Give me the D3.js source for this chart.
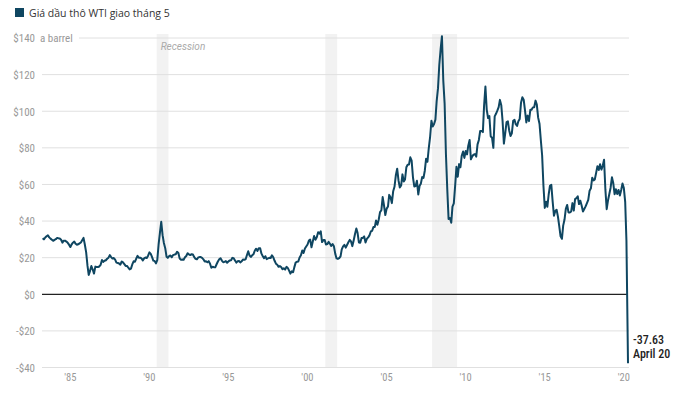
<!DOCTYPE html>
<html><head><meta charset="utf-8">
<script src="https://cdn.jsdelivr.net/npm/d3@7"></script>
<style>
body{margin:0;background:#fff}
svg{display:block}
.cond{font-family:"Roboto Condensed","Liberation Sans Narrow","DejaVu Sans Condensed",Roboto,sans-serif;font-stretch:condensed}
</style>
</head><body><svg id="c" width="680" height="397"></svg>
<script>
// Monthly WTI front-month prices (USD/barrel), April 1983 -> April 2020
const firstYear = 1983, firstMonth = 4;
const prices = [
  // 1983 Apr-Dec
  30.6, 30.0, 31.0, 31.7, 32.2, 31.1, 30.4, 29.8, 29.2,
  // 1984
  29.7, 30.1, 30.8, 30.6, 30.5, 29.8, 28.2, 29.3, 29.3, 28.8, 28.1, 27.1,
  // 1985
  25.8, 27.3, 28.2, 28.8, 27.6, 27.1, 27.3, 27.8, 28.3, 29.5, 30.8, 27.2,
  // 1986
  22.9, 15.5, 10.6, 12.8, 15.4, 13.5, 11.3, 15.1, 14.9, 14.9, 15.2, 16.1,
  // 1987
  18.7, 17.7, 18.3, 18.6, 19.4, 20.0, 21.4, 20.3, 19.5, 19.8, 18.9, 17.3,
  // 1988
  17.1, 16.8, 16.2, 17.9, 17.4, 16.5, 15.5, 15.5, 14.5, 13.6, 14.0, 16.3,
  // 1989
  18.0, 17.8, 19.4, 21.0, 20.0, 20.0, 19.6, 18.5, 19.6, 20.1, 19.8, 21.1,
  // 1990
  22.9, 22.1, 20.4, 18.4, 18.2, 16.9, 18.6, 27.2, 33.7, 39.6, 32.3, 28.0,
  // 1991
  25.2, 20.5, 19.9, 20.8, 21.2, 20.2, 21.4, 21.7, 21.9, 23.2, 22.5, 19.5,
  // 1992
  18.8, 19.0, 18.9, 20.2, 20.9, 22.4, 21.8, 21.4, 21.9, 21.7, 20.3, 19.4,
  // 1993
  19.1, 20.1, 20.3, 20.3, 19.9, 19.1, 17.9, 18.0, 17.5, 18.1, 16.7, 14.5,
  // 1994
  15.0, 14.8, 14.7, 16.4, 17.9, 19.1, 19.7, 18.4, 17.5, 17.7, 18.1, 17.2,
  // 1995
  18.0, 18.5, 18.6, 19.9, 19.7, 18.5, 17.3, 18.0, 18.2, 17.4, 18.0, 19.0,
  // 1996
  18.9, 19.1, 21.3, 23.5, 21.2, 20.4, 21.3, 21.9, 23.9, 24.9, 23.7, 25.2,
  // 1997
  25.1, 22.2, 20.9, 19.7, 20.8, 19.2, 19.6, 19.9, 19.8, 21.3, 20.2, 18.3,
  // 1998
  16.7, 16.1, 15.0, 15.4, 14.9, 13.7, 14.2, 13.5, 15.0, 14.4, 12.9, 11.3,
  // 1999
  12.5, 12.0, 14.7, 17.3, 17.8, 17.9, 20.1, 21.3, 23.9, 22.6, 25.0, 26.1,
  // 2000
  27.2, 29.4, 29.9, 25.7, 28.8, 31.8, 29.8, 31.2, 33.9, 33.1, 34.4, 28.5,
  // 2001
  29.6, 29.6, 27.2, 27.4, 28.6, 27.6, 26.4, 27.4, 26.2, 22.2, 19.6, 19.3,
  // 2002
  19.7, 20.7, 24.5, 26.2, 27.0, 25.5, 26.9, 28.4, 29.7, 28.9, 26.3, 29.4,
  // 2003
  32.9, 35.9, 33.6, 28.3, 28.1, 30.7, 30.8, 31.6, 28.3, 30.3, 31.1, 32.2,
  // 2004
  34.3, 34.7, 36.7, 36.7, 40.3, 38.0, 40.7, 44.9, 45.9, 53.1, 48.5, 43.3,
  // 2005
  46.8, 48.0, 54.3, 53.0, 49.8, 56.3, 58.7, 65.0, 68.6, 62.3, 58.3, 59.4,
  // 2006
  65.5, 61.6, 62.7, 69.4, 70.8, 70.9, 74.8, 73.0, 63.8, 58.9, 59.1, 62.0,
  // 2007
  54.5, 59.3, 60.4, 64.0, 63.5, 67.5, 74.1, 72.4, 79.9, 85.8, 94.8, 91.7,
  // 2008
  93.0, 95.4, 105.5, 112.6, 125.4, 134.0, 141.0, 116.7, 104.1, 76.6, 57.3, 41.1,
  // 2009
  41.7, 39.1, 47.9, 49.7, 59.0, 69.6, 64.2, 71.1, 69.4, 75.7, 78.0, 74.5,
  // 2010
  78.3, 76.4, 81.2, 84.3, 73.7, 75.3, 76.3, 76.6, 75.2, 81.9, 84.3, 89.2,
  // 2011
  89.2, 88.6, 102.9, 113.5, 100.9, 96.3, 97.3, 86.3, 85.5, 80.0, 97.2, 98.6,
  // 2012
  100.3, 102.2, 106.2, 103.3, 94.7, 82.3, 87.9, 94.1, 94.5, 89.5, 86.5, 87.9,
  // 2013
  94.8, 95.3, 92.9, 92.0, 94.5, 95.8, 104.6, 107.6, 106.3, 100.5, 93.9, 97.6,
  // 2014
  94.6, 100.8, 100.8, 102.1, 102.2, 105.8, 103.6, 96.5, 93.2, 84.4, 75.8, 59.3,
  // 2015
  47.2, 50.6, 47.8, 54.5, 59.3, 59.8, 50.9, 42.9, 45.5, 46.2, 42.4, 37.2,
  // 2016
  31.7, 30.3, 37.5, 40.8, 46.7, 48.8, 44.7, 44.7, 45.2, 49.8, 45.7, 52.0,
  // 2017
  52.5, 53.5, 49.3, 51.1, 48.5, 45.2, 46.6, 48.0, 49.8, 51.6, 56.6, 57.9,
  // 2018
  63.7, 62.2, 62.7, 66.3, 70.0, 67.9, 71.0, 68.1, 70.2, 73.5, 57.0, 46.5,
  // 2019
  51.4, 54.9, 58.2, 63.9, 60.8, 54.7, 57.4, 54.8, 57.0, 54.0, 57.0, 60.5,
  // 2020 Jan-Apr
  58.0, 50.5, 29.2, -37.63
];
const lastDay = 20; // last point: April 20, 2020
const yTicks = [-40, -20, 0, 20, 40, 60, 80, 100, 120, 140];
const xTickYears = [1985, 1990, 1995, 2000, 2005, 2010, 2015, 2020];
const recessions = [["1990-07-01", "1991-03-31"], ["2001-03-01", "2001-11-30"], ["2007-12-01", "2009-06-30"]];
const legendText = "Giá dầu thô WTI giao tháng 5";
const unitText = "a barrel";
const recessionText = "Recession";
const endLabel = ["-37.63", "April 20"];

const lineColor = "#0f4661";
const svg = d3.select("#c");

const data = prices.map((v, i) => {
  const last = i === prices.length - 1;
  return { date: new Date(firstYear, firstMonth - 1 + i, last ? lastDay : 15), value: v };
});

const x = d3.scaleTime()
  .domain([new Date(firstYear, firstMonth - 1, 1), data[data.length - 1].date])
  .range([42, 628]);
const y = d3.scaleLinear().domain([-40, 140]).range([367.5, 38]);

// recession bands
const parse = d3.timeParse("%Y-%m-%d");
svg.append("g").selectAll("rect").data(recessions).join("rect")
  .attr("x", d => x(parse(d[0])))
  .attr("width", d => x(parse(d[1])) - x(parse(d[0])))
  .attr("y", y(140) - 4)
  .attr("height", y(-40) - y(140) + 4)
  .attr("fill", "#f2f2f2");

svg.append("text").attr("x", x(parse(recessions[0][0])) + 4).attr("y", 50)
  .attr("font-family", "Roboto, sans-serif").attr("font-style", "italic")
  .attr("font-size", 10).attr("fill", "#aaa").text(recessionText);

// gridlines
const grid = svg.append("g");
grid.selectAll("line").data(yTicks.filter(d => d !== 0)).join("line")
  .attr("x1", d => d === 140 ? 79 : x.range()[0])
  .attr("x2", x.range()[1] + 1)
  .attr("y1", d => y(d)).attr("y2", d => y(d))
  .attr("stroke", "#e0e0e0").attr("stroke-width", 1);

// y axis labels
const yAxis = d3.axisLeft(y).tickValues(yTicks).tickSize(0).tickPadding(0)
  .tickFormat(d => (d < 0 ? "-$" : "$") + Math.abs(d));
const yg = svg.append("g").attr("transform", "translate(35,0)").call(yAxis);
yg.select(".domain").remove();
yg.selectAll("text").attr("class", "cond").attr("font-size", 11).attr("fill", "#999").attr("dy", "0.35em");

svg.append("text").attr("class", "cond").attr("x", 40).attr("y", y(140)).attr("dy", "0.35em")
  .attr("font-size", 11).attr("fill", "#999").text(unitText);

// x axis labels
const xAxis = d3.axisBottom(x).tickValues(xTickYears.map(yy => new Date(yy, 0, 1)))
  .tickSize(0).tickPadding(0).tickFormat(d => "'" + d3.timeFormat("%y")(d));
const xg = svg.append("g").attr("transform", "translate(0,374)").call(xAxis);
xg.select(".domain").remove();
xg.selectAll("text").attr("class", "cond").attr("font-size", 10.5).attr("fill", "#999");

// zero line
svg.append("line").attr("x1", x.range()[0]).attr("x2", x.range()[1])
  .attr("y1", y(0)).attr("y2", y(0)).attr("stroke", "#222").attr("stroke-width", 1.3);

// price line
const line = d3.line().x(d => x(d.date)).y(d => y(d.value)).curve(d3.curveLinear);
svg.append("path").datum(data).attr("d", line)
  .attr("fill", "none").attr("stroke", lineColor).attr("stroke-width", 2)
  .attr("stroke-linejoin", "round");

// end annotation
const lastPt = data[data.length - 1];
const ann = svg.append("text").attr("class", "cond").attr("x", x(lastPt.date) + 5)
  .attr("y", y(lastPt.value) - 19).attr("font-size", 12).attr("font-weight", 500).attr("fill", "#222");
ann.selectAll("tspan").data(endLabel).join("tspan")
  .attr("x", x(lastPt.date) + 5).attr("dy", (d, i) => i ? 13.5 : 0).text(d => d);

// legend
svg.append("rect").attr("x", 15).attr("y", 8).attr("width", 9).attr("height", 9).attr("fill", lineColor);
svg.append("text").attr("x", 29).attr("y", 16.5).attr("font-family", "'Open Sans', sans-serif")
  .attr("font-size", 10.5).attr("fill", "#333").text(legendText);
</script>
</body></html>
